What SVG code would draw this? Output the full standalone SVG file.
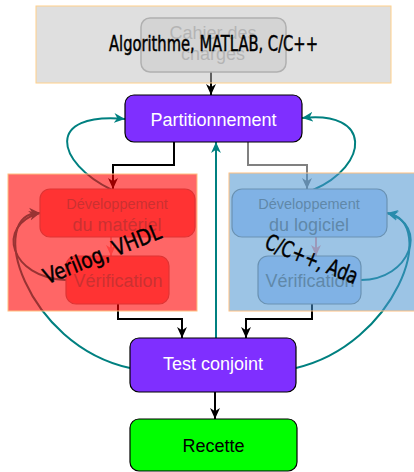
<svg xmlns="http://www.w3.org/2000/svg" width="414" height="472" viewBox="0 0 414 472">
<defs>
<style>
.lbl{font-family:"Liberation Sans",Arial,sans-serif;text-anchor:middle}
.note{font-family:"DejaVu Sans Condensed","DejaVu Sans",sans-serif;font-stretch:condensed;fill:#000;stroke:#000;stroke-width:0.45}
.k{fill:none;stroke:#000;stroke-width:2}
.t{fill:none;stroke:#008080;stroke-width:2}
.g{fill:none;stroke:#808080;stroke-width:2}
.p{fill:none;stroke:#ffa0a0;stroke-width:2}
.box{stroke:#000;stroke-width:1.2}
.inner{fill:#ff8080;stroke:#b08080;stroke-width:1.2}
.innerb{fill:#c0d8ff;stroke:#909090;stroke-width:1.2}
.it{fill:#7a7a7a}
</style>
<marker id="ak" viewBox="0 0 10 10" refX="10" refY="5" markerWidth="11" markerHeight="11" markerUnits="userSpaceOnUse" orient="auto"><path d="M0,0.5 L10,5 L0,9.5 L3,5 z" fill="#000"/></marker>
<marker id="at" viewBox="0 0 10 10" refX="10" refY="5" markerWidth="11" markerHeight="11" markerUnits="userSpaceOnUse" orient="auto"><path d="M0,0.5 L10,5 L0,9.5 L3,5 z" fill="#008080"/></marker>
<marker id="ag" viewBox="0 0 10 10" refX="10" refY="5" markerWidth="11" markerHeight="11" markerUnits="userSpaceOnUse" orient="auto"><path d="M0,0.5 L10,5 L0,9.5 L3,5 z" fill="#808080"/></marker>
<marker id="ap" viewBox="0 0 10 10" refX="10" refY="5" markerWidth="11" markerHeight="11" markerUnits="userSpaceOnUse" orient="auto"><path d="M0,0.5 L10,5 L0,9.5 L3,5 z" fill="#ffa0a0"/></marker>
</defs>
<rect width="414" height="472" fill="#fff"/>

<g id="connectors">
<path class="k" d="M211,72 V95" marker-end="url(#ak)"/>
<path class="k" d="M174,142 V165 H113 V189" marker-end="url(#ak)"/>
<path class="g" d="M248,142 V165 H307 V189" marker-end="url(#ag)"/>
<path class="t" d="M216,338 V142" marker-end="url(#at)"/>
<path class="t" d="M112,190 C55,162 45,112 125,119" marker-end="url(#at)"/>
<path class="t" d="M313,190 C370,165 372,110 302,118" marker-end="url(#at)"/>
<path class="t" d="M130,368 C25,345 -15,212 40,213" marker-end="url(#at)"/>
<path class="t" d="M66,280 C10,278 -5,225 40,213" marker-end="url(#at)"/>
<path class="t" d="M296,368 C395,345 440,222 387,213" marker-end="url(#at)"/>
<path class="t" d="M361,280 C410,280 430,225 387,213" marker-end="url(#at)"/>
<path class="p" d="M111,237 V256" marker-end="url(#ap)"/>
<path class="p" d="M316,237 V256" marker-end="url(#ap)"/>
<path class="k" d="M118,304 V319 H182 V338" marker-end="url(#ak)"/>
<path class="k" d="M312,304 V319 H246 V338" marker-end="url(#ak)"/>
<path class="k" d="M215,392 V419" marker-end="url(#ak)"/>
</g>

<g id="cahier">
<rect x="141" y="18" width="145" height="54" rx="9" fill="#e8e8e8" stroke="#a0a0a0" stroke-width="1.5"/>
<text class="lbl" x="213" y="39" font-size="18" fill="#a8a8a8">Cahier des</text>
<text class="lbl" x="213" y="60" font-size="18" fill="#a8a8a8">charges</text>
</g>

<g id="partitionnement">
<rect class="box" x="125" y="95" width="177" height="47" rx="9" fill="#7f2fff"/>
<text class="lbl" x="213.5" y="126" font-size="18" fill="#fff">Partitionnement</text>
</g>

<g id="dev-materiel">
<rect class="inner" x="40" y="189" width="155" height="48" rx="10"/>
<text class="lbl it" x="117" y="209" font-size="14.5">Développement</text>
<text class="lbl it" x="117" y="231" font-size="18">du matériel</text>
</g>
<g id="verif-materiel">
<rect class="inner" x="66" y="256" width="103" height="48" rx="10"/>
<text class="lbl it" x="118" y="287" font-size="18">Vérification</text>
</g>

<g id="dev-logiciel">
<rect class="innerb" x="232" y="189" width="155" height="48" rx="10"/>
<text class="lbl it" x="309" y="209" font-size="14.5">Développement</text>
<text class="lbl it" x="309" y="231" font-size="18">du logiciel</text>
</g>
<g id="verif-logiciel">
<rect class="innerb" x="258" y="256" width="103" height="48" rx="10"/>
<text class="lbl it" x="310" y="287" font-size="18">Vérification</text>
</g>

<g id="test-conjoint">
<rect class="box" x="130" y="338" width="166" height="54" rx="9" fill="#7f2fff"/>
<text class="lbl" x="213" y="370" font-size="18" fill="#fff">Test conjoint</text>
</g>

<g id="recette">
<rect class="box" x="130" y="419" width="167" height="52" rx="9" fill="#00ff00"/>
<text class="lbl" x="213.5" y="452" font-size="18" fill="#000">Recette</text>
</g>

<g id="overlay-algo">
<rect x="36" y="6" width="355" height="77" fill="#c0c0c0" fill-opacity="0.5" stroke="#ffd08a" stroke-width="1"/>
<text class="note" x="109" y="51" font-size="20.5" textLength="209" lengthAdjust="spacingAndGlyphs">Algorithme, MATLAB, C/C++</text>
</g>

<g id="overlay-materiel">
<rect x="8" y="174" width="189" height="137" fill="#ff0000" fill-opacity="0.6" stroke="#ffc080" stroke-width="1"/>
<text class="note" font-size="22" text-anchor="middle" textLength="125" lengthAdjust="spacingAndGlyphs" transform="translate(105,261) rotate(-22)">Verilog, VHDL</text>
</g>

<g id="overlay-logiciel">
<rect x="229" y="173" width="190" height="138" fill="#4a94d0" fill-opacity="0.55" stroke="#ffc080" stroke-width="1"/>
<text class="note" font-size="22" text-anchor="middle" textLength="98" lengthAdjust="spacingAndGlyphs" transform="translate(309,266) rotate(22)">C/C++, Ada</text>
</g>
</svg>
